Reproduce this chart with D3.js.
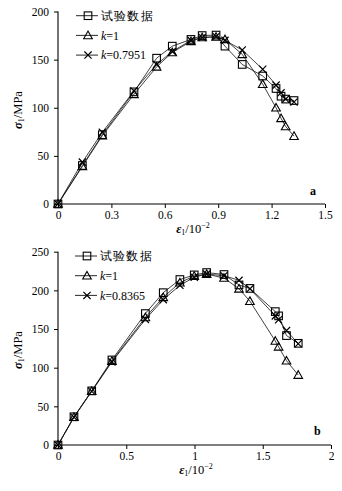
<!DOCTYPE html>
<html><head><meta charset="utf-8">
<script src="https://cdn.jsdelivr.net/npm/d3@7"></script>
<style>
html,body{margin:0;padding:0;background:#fff;}
svg{display:block;}
text{font-family:"Liberation Serif","Times New Roman",serif;fill:#000;}
</style></head>
<body><svg id="c" width="342" height="491"></svg>
<script>
// ---- Data (panel a) ----
const strainA = [0, 0.137, 0.249, 0.427, 0.554, 0.642, 0.747, 0.81, 0.888, 0.938, 1.035, 1.15, 1.225, 1.253, 1.279, 1.326];
const testA   = [0, 40, 72, 116.5, 151.5, 164, 171, 175, 175.5, 164, 145, 133, 120, 112, 109, 107.5];
const k1A     = [0, 39, 71, 114, 142.5, 157.5, 169, 173, 173.5, 171, 155.5, 124.5, 100, 89, 80.5, 70.5];
const kfitA   = [0, 43.5, 74.5, 117.5, 145, 158.5, 170, 173, 174, 170, 160, 140, 123.5, 115.5, 109, 106];
const kLabelA = "0.7951";
const xTicksA = [0, 0.3, 0.6, 0.9, 1.2, 1.5];
const yTicksA = [0, 50, 100, 150, 200];

// ---- Data (panel b) ----
const strainB = [0, 0.117, 0.247, 0.395, 0.64, 0.771, 0.893, 0.998, 1.089, 1.216, 1.326, 1.406, 1.592, 1.616, 1.674, 1.76];
const testB   = [0, 36.5, 70, 110, 170, 197, 214, 220, 223, 220.5, 207, 202.5, 172.5, 167, 141.5, 131.5];
const k1B     = [0, 36, 69.5, 108.5, 165, 191, 210, 218.5, 221, 216, 202, 186, 134.5, 127, 109, 90.5];
const kfitB   = [0, 36, 69.5, 107.5, 162.5, 188, 206.5, 217, 221, 219, 213, 202, 167, 162, 148, 131];
const kLabelB = "0.8365";
const xTicksB = [0, 0.5, 1, 1.5, 2];
const yTicksB = [0, 50, 100, 150, 200, 250];

const legendNames = ["试验数据", "k=1", "k="];

const svg = d3.select("#c");

function panel(cfg){
  const g = svg.append("g");
  const x = d3.scaleLinear().domain(cfg.xd).range(cfg.xr);
  const y = d3.scaleLinear().domain(cfg.yd).range(cfg.yr);

  // axes
  const xa = g.append("g").attr("transform",`translate(0,${cfg.yr[0]})`)
    .call(d3.axisBottom(x).tickValues(cfg.xt).tickSize(4).tickPadding(3).tickFormat(d3.format("")));
  const ya = g.append("g").attr("transform",`translate(${cfg.xr[0]},0)`)
    .call(d3.axisLeft(y).tickValues(cfg.yt).tickSize(4).tickPadding(5));
  [xa,ya].forEach(a=>{
    a.select(".domain").attr("stroke","#000").attr("stroke-width",1.1);
    a.selectAll(".tick line").attr("stroke","#000").attr("stroke-width",1);
    a.selectAll(".tick text").attr("font-size",11.5).attr("font-family","Liberation Serif, serif").attr("fill","#000");
  });
  xa.select(".domain").attr("d",`M${cfg.xr[0]},0H${cfg.xr[1]}`);
  ya.select(".domain").attr("d",`M0,${cfg.yr[0]}V${cfg.yr[1]}`);

  const line = d3.line().x(d=>x(d[0])).y(d=>y(d[1]));
  const series = [cfg.test, cfg.k1, cfg.kfit].map(v=>cfg.strain.map((s,i)=>[s,v[i]]));
  const kinds = ["square","triangle","cross"];

  series.forEach((pts,si)=>{
    g.append("path").attr("d",line(pts)).attr("fill","none").attr("stroke","#111").attr("stroke-width",0.8);
  });
  series.forEach((pts,si)=>{
    pts.forEach(p=>marker(g, kinds[si], x(p[0]), y(p[1])));
  });

  // legend
  const lx = cfg.leg[0], ly = cfg.leg[1];
  kinds.forEach((k,i)=>{
    const yy = ly + i*19.7;
    g.append("line").attr("x1",lx).attr("x2",lx+22).attr("y1",yy).attr("y2",yy).attr("stroke","#111").attr("stroke-width",0.9);
    marker(g,k,lx+12,yy);
    const t = g.append("text").attr("x",lx+25).attr("y",yy+4.2).attr("font-size",12);
    if(i===0){
      t.attr("font-family","'Noto Sans CJK SC',sans-serif").attr("font-size",11.5).attr("letter-spacing",1.2).text(legendNames[0]);
    } else {
      t.append("tspan").attr("font-style","italic").text("k");
      t.append("tspan").text(i===1 ? "=1" : "="+cfg.klab);
    }
  });

  // panel letter
  g.append("text").attr("x",cfg.letter[0]).attr("y",cfg.letter[1]).attr("font-size",12).attr("font-weight","bold").text(cfg.name);

  // x label
  const xl = g.append("text").attr("x",cfg.xlab[0]).attr("y",cfg.xlab[1]).attr("text-anchor","middle").attr("font-size",12.5);
  xl.append("tspan").attr("font-style","italic").attr("font-weight","bold").text("ε");
  xl.append("tspan").attr("font-size",8).attr("dy",2).text("1");
  xl.append("tspan").attr("dy",-2).text("/10");
  xl.append("tspan").attr("font-size",8).attr("dy",-5).text("−2");

  // y label
  const yl = g.append("text").attr("transform",`translate(${cfg.ylab[0]},${cfg.ylab[1]}) rotate(-90)`).attr("text-anchor","middle").attr("font-size",12.5);
  yl.append("tspan").attr("font-style","italic").attr("font-weight","bold").text("σ");
  yl.append("tspan").attr("font-size",8).attr("dy",2).text("1");
  yl.append("tspan").attr("dy",-2).text("/MPa");
}

function marker(g,k,cx,cy){
  const s = 3.8;
  if(k==="square"){
    g.append("rect").attr("x",cx-s).attr("y",cy-s).attr("width",2*s).attr("height",2*s)
      .attr("fill","none").attr("stroke","#000").attr("stroke-width",1.1);
  } else if(k==="triangle"){
    g.append("path").attr("d",`M${cx},${cy-4.3}L${cx+4.3},${cy+3.3}L${cx-4.3},${cy+3.3}Z`)
      .attr("fill","none").attr("stroke","#000").attr("stroke-width",1.1);
  } else {
    const c=3.6;
    g.append("path").attr("d",`M${cx-c},${cy-c}L${cx+c},${cy+c}M${cx-c},${cy+c}L${cx+c},${cy-c}`)
      .attr("fill","none").attr("stroke","#000").attr("stroke-width",1.2);
  }
}

panel({name:"a", strain:strainA, test:testA, k1:k1A, kfit:kfitA, klab:kLabelA,
  xd:[0,1.5], xr:[58,325], yd:[0,200], yr:[204,11.5], xt:xTicksA, yt:yTicksA,
  leg:[76,15.7], letter:[310,195], xlab:[193,233], ylab:[22,110]});
panel({name:"b", strain:strainB, test:testB, k1:k1B, kfit:kfitB, klab:kLabelB,
  xd:[0,2], xr:[58,331], yd:[0,250], yr:[445,251.7], xt:xTicksB, yt:yTicksB,
  leg:[75,256], letter:[314,435], xlab:[196,474], ylab:[22,350]});
</script></body></html>
